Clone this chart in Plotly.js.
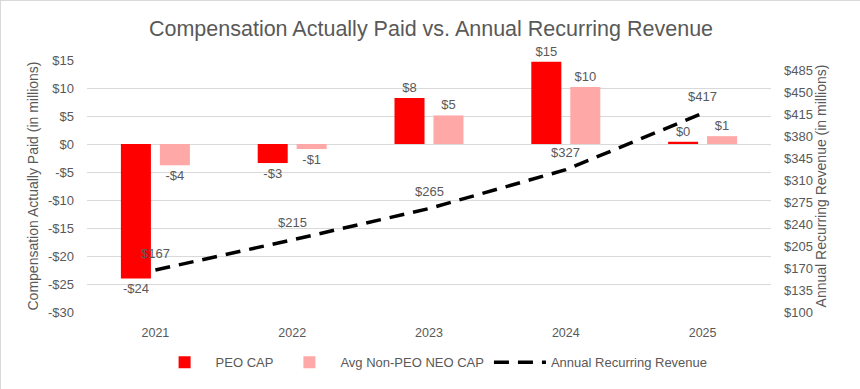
<!DOCTYPE html>
<html><head><meta charset="utf-8">
<script src="https://cdn.plot.ly/plotly-3.0.1.min.js"></script>
<style>html,body{margin:0;padding:0;background:#fff}#chart{width:860px;height:389px;box-sizing:border-box;border:1px solid #d9d9d9}</style>
</head><body><div id="chart"></div>
<script>
const years = ['2021','2022','2023','2024','2025'];
const peoCap = [-24.0, -3.4, 8.2, 14.7, 0.4];
const neoCap = [-3.8, -0.9, 5.1, 10.2, 1.4];
const arr = [167, 215, 265, 327, 417];
const leftTicks = [-30,-25,-20,-15,-10,-5,0,5,10,15];
const rightTicks = [100,135,170,205,240,275,310,345,380,415,450,485];

const money = v => (Math.round(v) < 0 ? '-$' + Math.abs(Math.round(v)) : '$' + Math.round(v));
const font = 'Liberation Sans, Arial, sans-serif';
const grey = '#595959';

const traces = [
  {type:'bar', name:'PEO CAP', x:years, y:peoCap, marker:{color:'#ff0000'},
   text:peoCap.map(money), textposition:'outside', cliponaxis:false,
   textfont:{color:grey, size:13, family:font}},
  {type:'bar', name:'Avg Non-PEO NEO CAP', x:years, y:neoCap, marker:{color:'#ffa8a8'},
   text:neoCap.map(money), textposition:'outside', cliponaxis:false,
   textfont:{color:grey, size:13, family:font}},
  {type:'scatter', mode:'lines', name:'Annual Recurring Revenue', x:years, y:arr, yaxis:'y2',
   line:{color:'#000', width:3.5, dash:'15px,9px'}, cliponaxis:false}
];

// category index positions on the category x axis
const annotations = years.map((yr, i) => ({
  x: i, y: arr[i], xref:'x', yref:'y2', text: money(arr[i]), showarrow:false,
  yanchor:'middle', yshift:17, font:{color:grey, size:13, family:font}
}));

const layout = {
  width:860, height:389,
  margin:{l:86, r:90, t:59, b:75},
  paper_bgcolor:'#fff', plot_bgcolor:'#fff',
  font:{family:font, color:grey, size:12},
  title:{text:'Compensation Actually Paid vs. Annual Recurring Revenue', x:0.5, xanchor:'center', y:0.93, yanchor:'middle',
         font:{size:21.5, color:grey, family:font}},
  barmode:'group', bargap:0.43, bargroupgap:0.23,
  annotations: annotations,
  xaxis:{type:'category', categoryorder:'array', categoryarray:years, range:[-0.5, years.length-0.5],
         showgrid:false, zeroline:false, showline:false, ticks:'',
         tickfont:{size:12.5, color:grey}, ticklabelstandoff:11},
  yaxis:{range:[-30,15], tickvals:leftTicks, ticktext:leftTicks.map(money), showgrid:true, gridcolor:'#d9d9d9', gridwidth:1,
         zeroline:true, zerolinecolor:'#d9d9d9', zerolinewidth:1, showline:false, ticks:'', ticklabelstandoff:12,
         tickfont:{size:13, color:grey},
         title:{text:'Compensation Actually Paid (in millions)', font:{size:14, color:grey}, standoff:6}},
  yaxis2:{overlaying:'y', side:'right', range:[100,502], tickvals:rightTicks, ticktext:rightTicks.map(money),
          showgrid:false, zeroline:false, showline:false, ticks:'', ticklabelstandoff:12,
          tickfont:{size:13, color:grey},
          title:{text:'Annual Recurring Revenue (in millions)', font:{size:14, color:grey}, standoff:4}},
  showlegend:true,
  legend:{orientation:'h', x:0.506, xanchor:'center', y:-0.2, yanchor:'middle', font:{size:13, color:grey},
          itemwidth:52, tracegroupgap:0}
};
Plotly.newPlot('chart', traces, layout, {displayModeBar:false, staticPlot:true});
</script></body></html>
